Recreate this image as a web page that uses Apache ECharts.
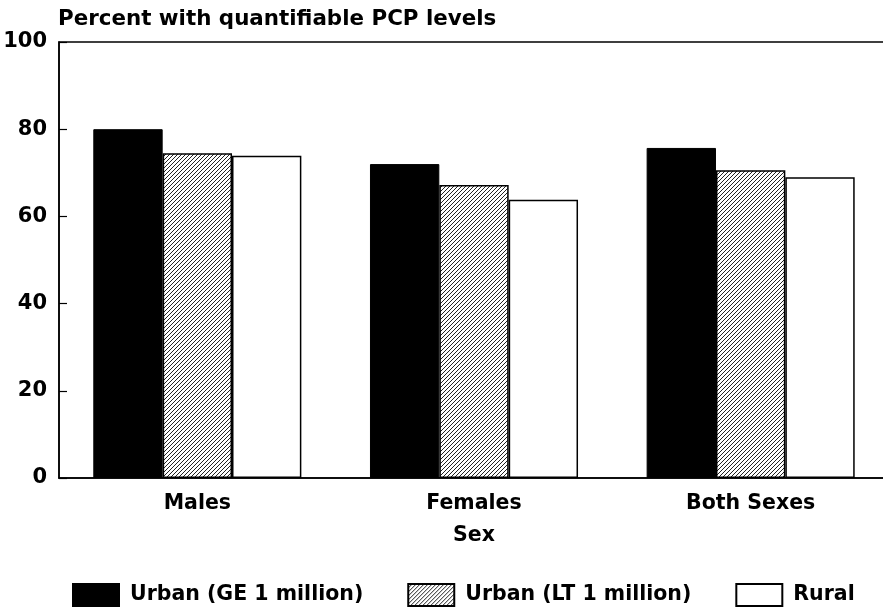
<!DOCTYPE html>
<html>
<head>
<meta charset="utf-8">
<style>
html,body{margin:0;padding:0;background:#fff;}
#chart{width:883px;height:611px;}
</style>
<script src="https://cdn.jsdelivr.net/npm/echarts@6/dist/echarts.min.js"></script>
</head>
<body>
<div id="chart"></div>
<script>
const categories = ['Males', 'Females', 'Both Sexes'];
const seriesNames = ['Urban (GE 1 million)', 'Urban (LT 1 million)', 'Rural'];
const urbanGE = [80.0, 72.0, 75.7];
const urbanLT = [74.5, 67.2, 70.6];
const rural = [73.9, 63.8, 69.0];
const yTicks = [0, 20, 40, 60, 80, 100];
const titleText = 'Percent with quantifiable PCP levels';
const xName = 'Sex';

// hatch pattern
const pc = document.createElement('canvas');
pc.width = 4; pc.height = 4;
const g = pc.getContext('2d');
g.fillStyle = '#fff';
g.fillRect(0, 0, 4, 4);
g.strokeStyle = '#222';
g.lineWidth = 1;
g.beginPath();
g.moveTo(-1, 5); g.lineTo(5, -1);
g.moveTo(-1, 1); g.lineTo(1, -1);
g.moveTo(3, 5); g.lineTo(5, 3);
g.stroke();

const FONT = 'DejaVu Sans';
const chart = echarts.init(document.getElementById('chart'), null, {renderer: 'canvas'});
chart.setOption({
  animation: false,
  backgroundColor: '#fff',
  title: {
    text: titleText,
    left: 58,
    top: 9,
    padding: 0,
    textStyle: {fontFamily: FONT, fontWeight: 'bold', fontSize: 21.4, color: '#000'}
  },
  legend: {
    left: 72,
    top: 583,
    padding: 0,
    itemWidth: 46,
    itemHeight: 22,
    itemGap: 44,
    icon: 'rect',
    data: seriesNames,
    textStyle: {fontFamily: FONT, fontWeight: 'bold', fontSize: 20.5, color: '#000', padding: [2, 0, 0, 6]}
  },
  grid: {
    left: 59,
    top: 42,
    right: -6,
    bottom: 133,
    outerBoundsMode: 'none',
    show: true,
    borderColor: '#000',
    borderWidth: 1.5,
    backgroundColor: 'transparent',
    containLabel: false
  },
  xAxis: {
    type: 'category',
    data: categories,
    name: xName,
    nameLocation: 'middle',
    nameGap: 47,
    nameTextStyle: {fontFamily: FONT, fontWeight: 'bold', fontSize: 20.5, color: '#000'},
    axisLine: {show: true, lineStyle: {color: '#000', width: 1.5}},
    axisTick: {show: true, inside: true, alignWithLabel: true, length: 8, lineStyle: {color: '#000', width: 1.2}},
    axisLabel: {fontFamily: FONT, fontWeight: 'bold', fontSize: 20.5, color: '#000', margin: 15},
    splitLine: {show: false}
  },
  yAxis: {
    type: 'value',
    min: 0,
    max: 100,
    interval: 20,
    axisLine: {show: true, lineStyle: {color: '#000', width: 1.5}},
    axisTick: {show: true, inside: true, length: 8, lineStyle: {color: '#000', width: 1.2}},
    axisLabel: {
      fontFamily: FONT, fontWeight: 'bold', fontSize: 21, color: '#000', margin: 12,
      formatter: function (v) { return yTicks.indexOf(v) >= 0 ? String(v) : ''; }
    },
    splitLine: {show: false}
  },
  series: [
    {
      name: seriesNames[0], type: 'bar', data: urbanGE,
      barGap: '0%', barCategoryGap: '24.8%',
      itemStyle: {color: '#000', borderColor: '#000', borderWidth: 1}
    },
    {
      name: seriesNames[1], type: 'bar', data: urbanLT,
      barGap: '0%', barCategoryGap: '24.8%',
      itemStyle: {color: {image: pc, repeat: 'repeat'}, borderColor: '#000', borderWidth: 1.5}
    },
    {
      name: seriesNames[2], type: 'bar', data: rural,
      barGap: '0%', barCategoryGap: '24.8%',
      itemStyle: {color: '#fff', borderColor: '#000', borderWidth: 1.5}
    }
  ]
});
</script>
</body>
</html>
